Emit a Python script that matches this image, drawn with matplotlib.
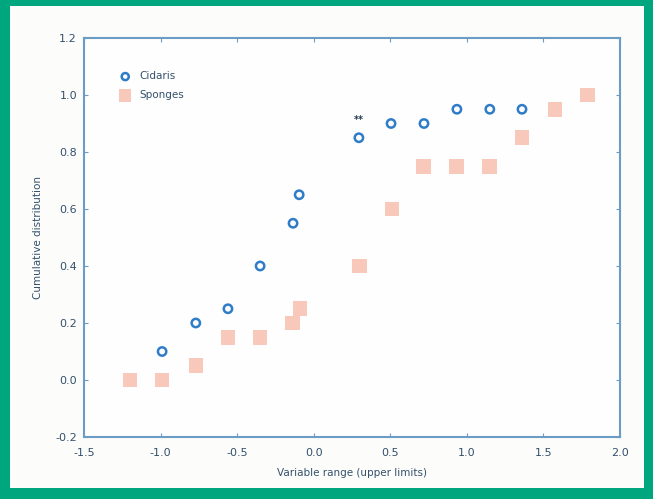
import matplotlib.pyplot as plt
from matplotlib.patches import Rectangle

# upper limits of the variable range
ciliid_x = [-0.99, -0.77, -0.56, -0.35, -0.135, -0.095, 0.295, 0.505, 0.72, 0.935, 1.15, 1.36]
ciliid_y = [0.10, 0.20, 0.25, 0.40, 0.55, 0.65, 0.85, 0.90, 0.90, 0.95, 0.95, 0.95]

sponge_x = [-1.20, -0.99, -0.77, -0.56, -0.35, -0.137, -0.09, 0.30, 0.51, 0.716, 0.934, 1.147, 1.36, 1.576, 1.787]
sponge_y = [0.0, 0.0, 0.05, 0.15, 0.15, 0.20, 0.25, 0.40, 0.60, 0.75, 0.75, 0.75, 0.85, 0.95, 1.00]

x_ticks = [-1.5, -1.0, -0.5, 0.0, 0.5, 1.0, 1.5, 2.0]
y_ticks = [-0.2, 0.0, 0.2, 0.4, 0.6, 0.8, 1.0, 1.2]

txt = '#34506c'
spine = '#6a9cc6'

fig = plt.figure(figsize=(6.53, 4.99), dpi=100)
fig.patch.set_facecolor('#00a67e')
fig.patches.append(Rectangle((10 / 653, 11 / 499), 634 / 653, 482 / 499,
                             transform=fig.transFigure, facecolor='#fcfcfa',
                             edgecolor='none', zorder=-5))

ax = fig.add_axes([84 / 653, 62 / 499, 536 / 653, 399 / 499])
ax.set_facecolor('#fefefe')

ax.scatter(sponge_x, sponge_y, marker='s', s=110, color='#f6ab98', alpha=0.65,
           edgecolors='none', label='Sponges', zorder=2)
ax.scatter(ciliid_x, ciliid_y, marker='o', s=36, facecolors='none',
           edgecolors='#2f7cc8', linewidths=1.8, label='Cidaris', zorder=3)

# significance mark above the 0.85 point
ax.text(0.295, 0.895, '**', ha='center', va='bottom', fontsize=7,
        fontweight='bold', color='#22384f')

ax.set_xlim(-1.5, 2.0)
ax.set_ylim(-0.2, 1.2)
ax.set_xticks(x_ticks)
ax.set_yticks(y_ticks)
ax.set_xticklabels([f'{v:.1f}' for v in x_ticks])
ax.set_yticklabels([f'{v:.1f}' for v in y_ticks])
ax.tick_params(direction='in', length=3, width=0.8, colors=spine,
               labelcolor=txt, labelsize=8, top=True, right=True)
ax.tick_params(axis='x', pad=8)
ax.tick_params(axis='y', pad=5)
for s in ax.spines.values():
    s.set_color(spine)
    s.set_linewidth(1.5)

ax.set_xlabel('Variable range (upper limits)', fontsize=7.5, color=txt, labelpad=7)
ax.set_ylabel('Cumulative distribution', fontsize=7.5, color=txt, labelpad=9)

handles, labels = ax.get_legend_handles_labels()
leg = ax.legend(handles[::-1], labels[::-1], loc='upper left',
                bbox_to_anchor=(0.04, 0.94), frameon=False, fontsize=7.5,
                handletextpad=0.4, labelspacing=0.85, markerscale=0.85)
for t in leg.get_texts():
    t.set_color(txt)

fig.savefig('out.png', dpi=100, facecolor=fig.get_facecolor())
